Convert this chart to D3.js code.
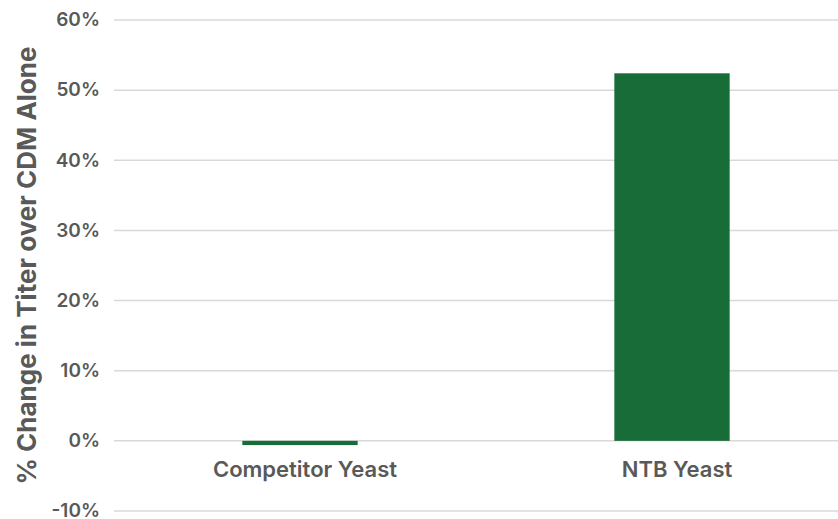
<!DOCTYPE html>
<html>
<head>
<meta charset="utf-8">
<script src="https://cdn.jsdelivr.net/npm/d3@7"></script>
<style>
  body { margin: 0; background: #fff; }
  text { font-family: Inter, "Open Sans", sans-serif; fill: #595959; }
</style>
</head>
<body>
<script>
// data
let categories = ["Competitor Yeast", "NTB Yeast"];
let values = [-0.6, 52.4];
let tickValues = [-10, 0, 10, 20, 30, 40, 50, 60];

let width = 838, height = 519;

let svg = d3.select("body").append("svg")
    .attr("width", width)
    .attr("height", height);

// scales
let y = d3.scaleLinear().domain([-10, 60]).range([511, 20]);
let x = d3.scaleBand().domain(categories).range([114, 858]).paddingInner(0.69).paddingOuter(0.345);

// gridlines
svg.append("g").selectAll("line")
    .data(tickValues)
    .enter().append("line")
    .attr("x1", 114).attr("x2", width)
    .attr("y1", d => y(d)).attr("y2", d => y(d))
    .attr("stroke", "#d9d9d9")
    .attr("stroke-width", 1.5);

// tick labels
svg.append("g").selectAll("text")
    .data(tickValues)
    .enter().append("text")
    .attr("x", 100)
    .attr("y", d => y(d))
    .attr("dy", "0.33em")
    .attr("text-anchor", "end")
    .style("font-size", "19px")
    .style("font-weight", 600)
    .text(d => d + "%");

// bars
svg.append("g").selectAll("rect")
    .data(values)
    .enter().append("rect")
    .attr("x", (d, i) => x(categories[i]))
    .attr("width", x.bandwidth())
    .attr("y", d => y(Math.max(0, d)))
    .attr("height", d => Math.abs(y(d) - y(0)))
    .attr("fill", "#186c38");

// category labels
svg.append("g").selectAll("text")
    .data(categories)
    .enter().append("text")
    .attr("x", d => x(d) + x.bandwidth() / 2 + 5)
    .attr("y", 477)
    .attr("text-anchor", "middle")
    .style("font-size", "22px")
    .style("font-weight", 600)
    .text(d => d);

// y axis title
svg.append("text")
    .attr("transform", "translate(36," + y(25) + ") rotate(-90)")
    .attr("text-anchor", "middle")
    .style("font-size", "26px")
    .style("font-weight", 700)
    .text("% Change in Titer over CDM Alone");
</script>
</body>
</html>
